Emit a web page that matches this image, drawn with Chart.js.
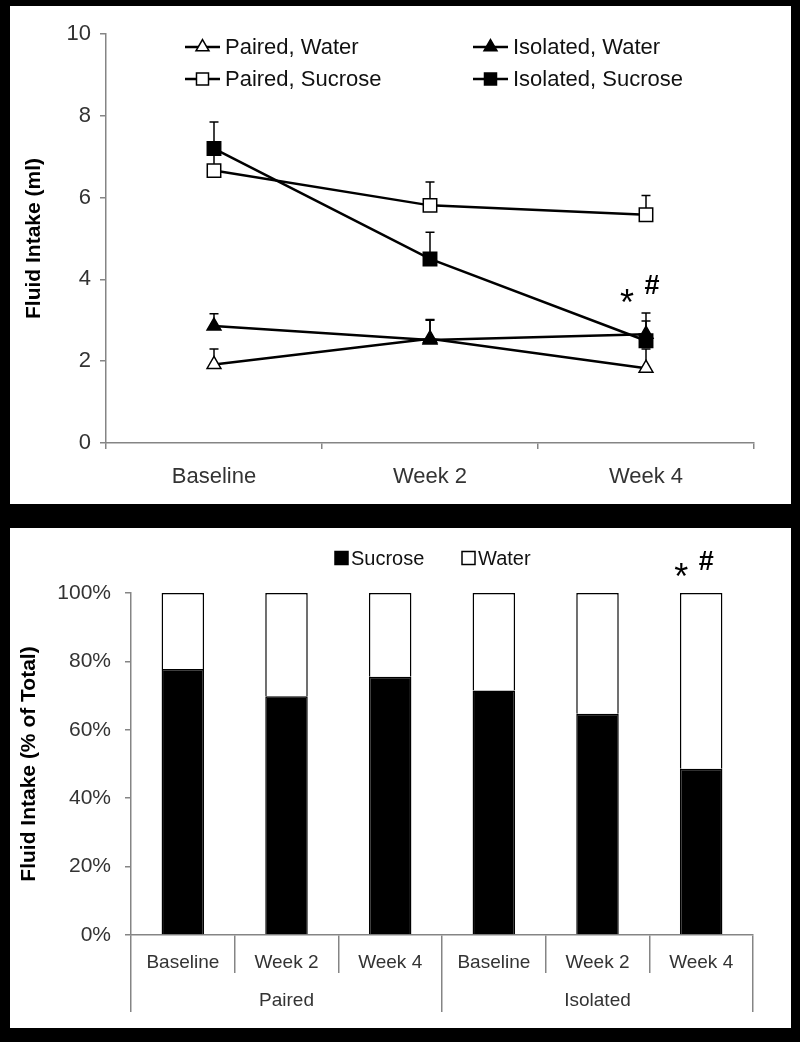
<!DOCTYPE html>
<html>
<head>
<meta charset="utf-8">
<script src="https://cdn.jsdelivr.net/npm/chart.js@4.4.1/dist/chart.umd.min.js"></script>
<style>
  html, body { margin: 0; padding: 0; background: #000; }
  body { width: 800px; height: 1042px; position: relative; overflow: hidden; }
  .panel { position: absolute; left: 10px; width: 781px; background: #fff; }
  #top-panel { top: 6px; height: 498px; }
  #bottom-panel { top: 528px; height: 500px; }
  canvas { display: block; }
</style>
</head>
<body>
<div class="panel" id="top-panel"><canvas id="intake-chart" width="781" height="498"></canvas></div>
<div class="panel" id="bottom-panel"><canvas id="percent-chart" width="781" height="500"></canvas></div>
<script>
// top chart: fluid intake (ml), mean with upward error bars
const weeks = ['Baseline', 'Week 2', 'Week 4'];
const pairedWater = [1.92, 2.55, 1.83];
const pairedWaterErr = [0.38, 0.45, 0.47];
const isolatedWater = [2.86, 2.52, 2.66];
const isolatedWaterErr = [0.3, 0.5, 0.52];
const pairedSucrose = [6.66, 5.81, 5.58];
const pairedSucroseErr = [0.45, 0.57, 0.47];
const isolatedSucrose = [7.2, 4.5, 2.5];
const isolatedSucroseErr = [0.65, 0.65, 0.48];
const intakeTicks = [0, 2, 4, 6, 8, 10];

// bottom chart: percent of total intake
const groups = ['Paired', 'Isolated'];
const phases = ['Baseline', 'Week 2', 'Week 4', 'Baseline', 'Week 2', 'Week 4'];
const sucrosePct = [77.8, 69.8, 75.5, 71.5, 64.7, 48.6];
const waterPct = sucrosePct.map(v => 100 - v);
const pctTicks = [0, 20, 40, 60, 80, 100];

const FONT = '"Liberation Sans", Arial, sans-serif';
const axisGray = '#858585';
const tickColor = '#333';

const errorBars = {
    id: 'errorBars',
    beforeDatasetsDraw(chart) {
        const ctx = chart.ctx;
        const yScale = chart.scales.y;
        ctx.save();
        ctx.strokeStyle = '#000';
        ctx.lineWidth = 1.5;
        chart.data.datasets.forEach((ds, i) => {
            if (!ds.errors) return;
            chart.getDatasetMeta(i).data.forEach((pt, j) => {
                const top = yScale.getPixelForValue(ds.data[j] + ds.errors[j]);
                ctx.beginPath();
                ctx.moveTo(pt.x, pt.y);
                ctx.lineTo(pt.x, top);
                ctx.moveTo(pt.x - 4.5, top);
                ctx.lineTo(pt.x + 4.5, top);
                ctx.stroke();
            });
        });
        ctx.restore();
    }
};

// "* #" marks above the last category
const sigMarks = {
    id: 'sigMarks',
    afterDraw(chart, args, opts) {
        const ctx = chart.ctx;
        const xScale = chart.scales.x;
        const x = xScale.getPixelForValue(xScale.getLabels().length - 1);
        const y = chart.scales.y.getPixelForValue(opts.value);
        ctx.save();
        ctx.fillStyle = '#000';
        ctx.textAlign = 'center';
        ctx.textBaseline = 'alphabetic';
        ctx.font = '36px ' + FONT;
        ctx.fillText('*', x + opts.starDx, y + opts.starDy);
        ctx.font = 'bold 27px ' + FONT;
        ctx.fillText('#', x + opts.hashDx, y + opts.hashDy);
        ctx.restore();
    }
};

// two-column legend with line + marker
const lineLegend = {
    id: 'lineLegend',
    afterDraw(chart, args, opts) {
        const ctx = chart.ctx;
        const area = chart.chartArea;
        ctx.save();
        ctx.font = '22px ' + FONT;
        ctx.textBaseline = 'middle';
        opts.items.forEach((item, k) => {
            const ds = chart.data.datasets.find(d => d.label === item);
            const col = k % 2, row = Math.floor(k / 2);
            const x0 = area.left + opts.colX[col];
            const y0 = opts.rowY[row];
            ctx.strokeStyle = '#000';
            ctx.lineWidth = 2.5;
            ctx.beginPath();
            ctx.moveTo(x0, y0);
            ctx.lineTo(x0 + 35, y0);
            ctx.stroke();
            ctx.fillStyle = ds.pointBackgroundColor;
            ctx.lineWidth = 1.5;
            Chart.helpers.drawPoint(ctx, {
                pointStyle: ds.pointStyle,
                radius: ds.pointStyle === 'rect' ? 8.5 : 7.5,
                rotation: 0,
                borderWidth: 1.5
            }, x0 + 17.5, y0);
            ctx.fillStyle = '#111';
            ctx.fillText(item, x0 + 40, y0 + 1);
        });
        ctx.restore();
    }
};

const boxLegend = {
    id: 'boxLegend',
    afterDraw(chart, args, opts) {
        const ctx = chart.ctx;
        const area = chart.chartArea;
        const cx = (area.left + area.right) / 2;
        ctx.save();
        ctx.font = '20px ' + FONT;
        ctx.textBaseline = 'middle';
        chart.data.datasets.forEach((ds, k) => {
            const x0 = cx + opts.itemX[k];
            const y0 = opts.y;
            ctx.fillStyle = ds.backgroundColor;
            ctx.strokeStyle = '#000';
            ctx.lineWidth = 1.5;
            ctx.fillRect(x0, y0 - 6.5, 13, 13);
            ctx.strokeRect(x0, y0 - 6.5, 13, 13);
            ctx.fillStyle = '#111';
            ctx.fillText(ds.label, x0 + 16, y0 + 1);
        });
        ctx.restore();
    }
};

function lineSet(label, data, errors, style, fill) {
    return {
        label: label,
        data: data,
        errors: errors,
        borderColor: '#000',
        borderWidth: 2.5,
        tension: 0,
        pointStyle: style,
        pointRadius: style === 'rect' ? 9.5 : 8,
        pointBackgroundColor: fill,
        pointBorderColor: '#000',
        pointBorderWidth: 1.5
    };
}

new Chart(document.getElementById('intake-chart'), {
    type: 'line',
    data: {
        labels: weeks,
        datasets: [
            lineSet('Isolated, Sucrose', isolatedSucrose, isolatedSucroseErr, 'rect', '#000'),
            lineSet('Isolated, Water', isolatedWater, isolatedWaterErr, 'triangle', '#000'),
            lineSet('Paired, Sucrose', pairedSucrose, pairedSucroseErr, 'rect', '#fff'),
            lineSet('Paired, Water', pairedWater, pairedWaterErr, 'triangle', '#fff')
        ]
    },
    plugins: [errorBars, sigMarks, lineLegend],
    options: {
        responsive: false,
        animation: false,
        layout: { padding: { top: 28, right: 37, left: 0, bottom: 0 } },
        plugins: {
            legend: { display: false },
            tooltip: { enabled: false },
            sigMarks: { value: 3.18, starDx: -19, starDy: 2, hashDx: 6, hashDy: -19 },
            lineLegend: {
                items: ['Paired, Water', 'Isolated, Water', 'Paired, Sucrose', 'Isolated, Sucrose'],
                colX: [79, 367],
                rowY: [41, 73]
            }
        },
        scales: {
            x: {
                offset: true,
                grid: { offset: true, drawOnChartArea: false, tickLength: 6, color: axisGray, lineWidth: 1.5 },
                border: { color: axisGray, width: 1.5 },
                ticks: { padding: 15, color: tickColor, font: { family: FONT, size: 22 } },
                afterFit(s) { s.height = 61; }
            },
            y: {
                min: 0,
                max: 10,
                afterBuildTicks(s) { s.ticks = intakeTicks.map(v => ({ value: v })); },
                grid: { drawOnChartArea: false, tickLength: 6, color: axisGray, lineWidth: 1.5 },
                border: { color: axisGray, width: 1.5 },
                ticks: { padding: 9, color: tickColor, font: { family: FONT, size: 22 } },
                title: {
                    display: true,
                    text: 'Fluid Intake (ml)',
                    color: '#000',
                    padding: { top: 12, bottom: 0 },
                    font: { family: FONT, size: 21, weight: 'bold' }
                },
                afterFit(s) { s.width = 96; }
            }
        }
    }
});

new Chart(document.getElementById('percent-chart'), {
    type: 'bar',
    data: {
        labels: phases,
        datasets: [
            {
                label: 'Sucrose',
                data: sucrosePct,
                backgroundColor: '#000',
                borderColor: '#000',
                borderWidth: 1.5,
                categoryPercentage: 1,
                barPercentage: 0.41
            },
            {
                label: 'Water',
                data: waterPct,
                backgroundColor: '#fff',
                borderColor: '#000',
                borderWidth: 1.5,
                categoryPercentage: 1,
                barPercentage: 0.41
            }
        ]
    },
    plugins: [sigMarks, boxLegend],
    options: {
        responsive: false,
        animation: false,
        layout: { padding: { top: 65, right: 38, left: 0, bottom: 16 } },
        plugins: {
            legend: { display: false },
            tooltip: { enabled: false },
            sigMarks: { value: 100, starDx: -20, starDy: -4, hashDx: 5, hashDy: -23 },
            boxLegend: { y: 30, itemX: [-107, 20] }
        },
        scales: {
            x: {
                stacked: true,
                offset: true,
                weight: 0,
                grid: { offset: true, drawOnChartArea: false, tickLength: 38, color: axisGray, lineWidth: 1.5 },
                border: { color: axisGray, width: 1.5 },
                ticks: { padding: -22, color: tickColor, autoSkip: false, maxRotation: 0, font: { family: FONT, size: 19 } },
                afterFit(s) { s.height = 38; }
            },
            x2: {
                type: 'category',
                labels: groups,
                position: 'bottom',
                offset: true,
                weight: 1,
                grid: { offset: true, drawOnChartArea: false, tickLength: 39, color: axisGray, lineWidth: 1.5 },
                border: { display: false },
                ticks: { padding: -23, color: tickColor, autoSkip: false, maxRotation: 0, font: { family: FONT, size: 19 } },
                afterFit(s) { s.height = 39; }
            },
            y: {
                stacked: true,
                min: 0,
                max: 100,
                afterBuildTicks(s) { s.ticks = pctTicks.map(v => ({ value: v })); },
                grid: { drawOnChartArea: false, tickLength: 6, color: axisGray, lineWidth: 1.5 },
                border: { color: axisGray, width: 1.5 },
                ticks: { padding: 14, color: tickColor, font: { family: FONT, size: 21 }, callback: v => v + '%' },
                title: {
                    display: true,
                    text: 'Fluid Intake (% of Total)',
                    color: '#000',
                    padding: { top: 7, bottom: 0 },
                    font: { family: FONT, size: 21, weight: 'bold' }
                },
                afterFit(s) { s.width = 121; }
            }
        }
    }
});
</script>
</body>
</html>
